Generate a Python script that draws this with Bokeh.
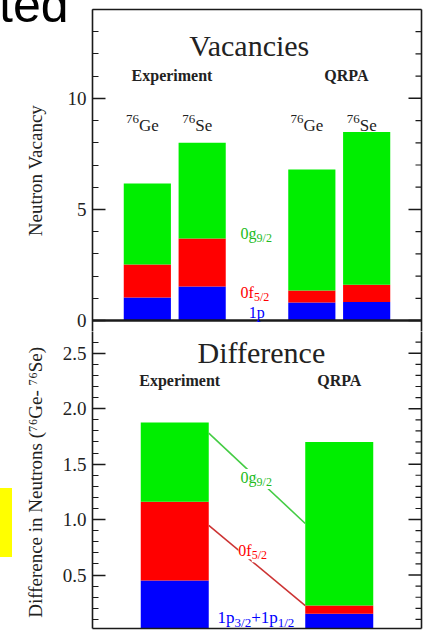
import numpy as np
from bokeh.plotting import figure
from bokeh.layouts import column
from bokeh.models import (Range1d, LinearAxis, SingleIntervalTicker, FixedTicker,
                          PrintfTickFormatter, Label, ColumnDataSource, Span, Div)
from bokeh.embed import file_html
from bokeh.resources import INLINE

# ---------------- data ----------------
methods = ["Experiment", "QRPA"]
nuclei = ["76Ge", "76Se"]
orbitals = ["1p", "0f", "0g"]
orbital_j = ["", "5/2", "9/2"]
# vacancies: Exp 76Ge, Exp 76Se, QRPA 76Ge, QRPA 76Se
vac_1p = [1.04, 1.53, 0.81, 0.83]
vac_0f = [1.48, 2.16, 0.54, 0.78]
vac_0g = [3.65, 4.31, 5.45, 6.87]
# difference in neutrons (76Ge - 76Se): Exp, QRPA
diff_1p = [0.45, 0.15]
diff_0f = [0.71, 0.075]
diff_0g = [0.715, 1.475]
# connecting lines Exp -> QRPA (0g9/2, 0f5/2)
link_start = [1.78, 0.947]
link_end = [0.965, 0.225]

GREEN = "#00ee00"
RED = "#ff0000"
BLUE = "#0000ff"
INK = "#1a1a1a"
FONT = "Liberation Serif"
W = 427

CW = {'0': .5, '1': .5, '2': .5, '3': .5, '4': .5, '5': .5, '6': .5, '7': .5, '8': .5, '9': .5,
      'G': .722, 'e': .444, 'S': .556, 'g': .5, 'f': .333, 'p': .5, '/': .278, '+': .564,
      '-': .333, ' ': .25}


def tw(s, size):
    return sum(CW.get(c, .5) for c in s) * size


def rich(p, x, y, segs, color, size, align="left", bg=None):
    sub_size = round(size * 0.75)
    widths = [tw(t, size if k == "n" else sub_size) for t, k in segs]
    off = -sum(widths) / 2 if align == "center" else 0
    for (t, k), w in zip(segs, widths):
        fs = size if k == "n" else sub_size
        yo = 0 if k == "n" else (-0.28 * size if k == "sub" else 0.38 * size)
        lab = Label(x=x, y=y, x_offset=off, y_offset=yo, text=t, text_font=FONT,
                    text_font_size=f"{fs}px", text_color=color, text_align="left",
                    text_baseline="alphabetic")
        if bg:
            lab.background_fill_color = bg
        p.add_layout(lab)
        off += w


def line_axis(p, loc):
    ax = LinearAxis(ticker=FixedTicker(ticks=[]), axis_line_width=1.6, axis_line_color=INK,
                    major_tick_out=0, minor_tick_out=0, major_tick_in=0, minor_tick_in=0,
                    major_label_standoff=0)
    p.add_layout(ax, loc)


def make_axes(p, interval, label, standoff, fmt=None):
    ax = LinearAxis(ticker=SingleIntervalTicker(interval=interval, num_minor_ticks=5))
    ax.major_tick_in = 13
    ax.major_tick_out = 0
    ax.minor_tick_in = 6
    ax.minor_tick_out = 0
    ax.axis_line_width = 1.6
    ax.major_tick_line_width = 1.5
    ax.minor_tick_line_width = 1.2
    ax.axis_line_color = INK
    ax.major_tick_line_color = INK
    ax.minor_tick_line_color = INK
    ax.axis_label = label
    ax.axis_label_text_font = FONT
    ax.axis_label_text_font_size = "19px"
    ax.axis_label_text_font_style = "normal"
    ax.axis_label_text_color = "#222222"
    ax.axis_label_standoff = standoff
    ax.major_label_text_font = FONT
    ax.major_label_text_font_size = "19px"
    ax.major_label_text_color = "#222222"
    ax.major_label_standoff = 6
    if fmt:
        ax.formatter = PrintfTickFormatter(format=fmt)
    p.add_layout(ax, "left")
    line_axis(p, "right")
    # inward ticks on the right-hand frame edge, same ticker spacing
    lo, hi = p.y_range.start, p.y_range.end
    minor = np.arange(np.ceil(lo / (interval / 5)), np.floor(hi / (interval / 5)) + 1) * interval / 5
    major = [v for v in minor if abs(v / interval - round(v / interval)) < 1e-6]
    minor = [v for v in minor if abs(v / interval - round(v / interval)) >= 1e-6]
    xr = p.x_range.end
    p.ray(x=[xr] * len(major), y=major, length=13, length_units="screen", angle=np.pi,
          line_color=INK, line_width=1.5)
    p.ray(x=[xr] * len(minor), y=minor, length=6, length_units="screen", angle=np.pi,
          line_color=INK, line_width=1.2)


def base_fig(height, yr, mt, mb):
    p = figure(width=W, height=height, x_range=Range1d(0, 6), y_range=yr,
               output_backend="svg", toolbar_location=None,
               x_axis_location=None, y_axis_location=None,
               min_border_left=92, min_border_right=6, min_border_top=mt, min_border_bottom=mb)
    p.grid.grid_line_color = None
    p.outline_line_color = None
    p.background_fill_color = "white"
    p.border_fill_color = "white"
    return p


# ---------------- top panel: vacancies ----------------
top = base_fig(331, Range1d(-0.495, 14.0), 9, 0)
line_axis(top, "above")
make_axes(top, 5, "Neutron Vacancy", 19)

x_top = [1 + 3 * m + i for m in range(len(methods)) for i in range(len(nuclei))]
src_top = ColumnDataSource(dict(x=x_top, p=vac_1p, f=vac_0f, g=vac_0g))
top.vbar_stack(["p", "f", "g"], x="x", width=0.86, fill_color=[BLUE, RED, GREEN],
               line_color=None, source=src_top)
top.add_layout(Span(location=0, dimension="width", line_color=INK, line_width=2.6))

top.add_layout(Label(x=2.86, y=12.39, text="Vacancies", text_align="center",
                     text_baseline="alphabetic", text_font=FONT, text_font_size="30px",
                     text_color="#222222"))
for m, xm in zip(methods, [1.45, 4.63]):
    top.add_layout(Label(x=xm, y=11.04, text=m, text_align="center", text_baseline="alphabetic",
                         text_font=FONT, text_font_size="16px", text_font_style="bold",
                         text_color="#222222"))
for k, xb in enumerate(x_top):
    nuc = nuclei[k % 2]
    rich(top, xb - 0.09, 8.78, [(nuc[:2], "sup"), (nuc[2:], "n")], "#222222", 17, align="center")

lab_colors = [BLUE, RED, "#22bb22"]
top_lab_pos = [(2.85, 0.36), (2.70, 1.26), (2.70, 3.92)]
for name, j, col, (lx, ly) in zip(orbitals, orbital_j, lab_colors, top_lab_pos):
    segs = [(name, "n")] + ([(j, "sub")] if j else [])
    rich(top, lx, ly, segs, col, 16)

# ---------------- bottom panel: difference ----------------
bot = base_fig(299, Range1d(0.018, 2.696), 0, 2)
line_axis(bot, "below")
make_axes(bot, 0.5, "Difference in Neutrons  (\u2077\u2076Ge- \u2077\u2076Se)", 14, "%.1f")

x_bot = [1.5 + 3 * m for m in range(len(methods))]
src_bot = ColumnDataSource(dict(x=x_bot, p=diff_1p, f=diff_0f, g=diff_0g))
bot.vbar_stack(["p", "f", "g"], x="x", width=1.24, fill_color=[BLUE, RED, GREEN],
               line_color=None, source=src_bot)

bot.segment(x0=[x_bot[0] + 0.62] * 2, y0=link_start, x1=[x_bot[1] - 0.62] * 2, y1=link_end,
            line_color=["#44cc44", "#cc3333"], line_width=1.6)

bot.add_layout(Label(x=3.08, y=2.507, text="Difference", text_align="center",
                     text_baseline="alphabetic", text_font=FONT, text_font_size="30px",
                     text_color="#222222"))
for m, xm in zip(methods, [1.59, 4.50]):
    bot.add_layout(Label(x=xm, y=2.254, text=m, text_align="center", text_baseline="alphabetic",
                         text_font=FONT, text_font_size="16px", text_font_style="bold",
                         text_color="#222222"))

rich(bot, 2.70, 1.38, [("0g", "n"), ("9/2", "sub")], "#22bb22", 16, bg="white")
rich(bot, 2.66, 0.72, [("0f", "n"), ("5/2", "sub")], RED, 16, bg="white")
rich(bot, 2.28, 0.117, [("1p", "n"), ("3/2", "sub"), ("+1p", "n"), ("1/2", "sub")], BLUE, 17)

# fragments of the surrounding slide (cropped heading text, highlight strip)
ted = Div(text='<span style="font-family: \'Liberation Sans\'; font-size: 50px; '
               'line-height: 50px; color: black; white-space: nowrap;">ted</span>',
          width=90, height=50, margin=0,
          styles={"position": "absolute", "left": "-1px", "top": "-20px", "z-index": "5"})
strip = Div(text="", width=12, height=69, margin=0,
            styles={"position": "absolute", "left": "0px", "top": "488px",
                    "background-color": "#ffff00", "z-index": "5"})

layout = column(top, bot, ted, strip, spacing=0)
open("out.html", "w").write(file_html(layout, INLINE))
